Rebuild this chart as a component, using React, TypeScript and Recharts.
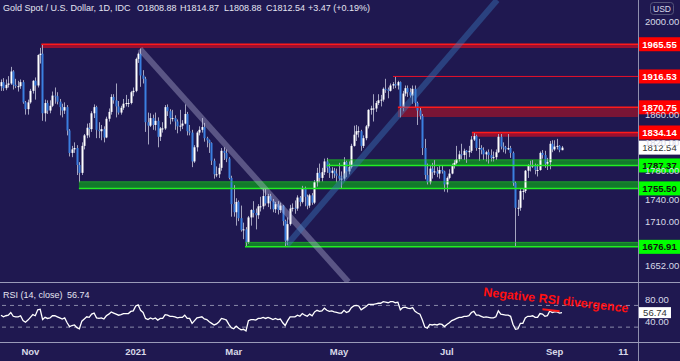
import React from 'react';
import { ComposedChart, Bar, Line, XAxis, YAxis, ReferenceLine, ReferenceArea } from 'recharts';

const FONT = '"Liberation Sans", Arial, sans-serif';
const BG = '#1f1850';

const opens = [1902,1908,1899,1904,1906,1924,1904,1902,1902,1908,
 1878,1868,1878,1895,1910,1903,1949,1951,1862,1877,
 1866,1873,1888,1887,1879,1871,1866,1871,1837,1805,
 1810,1812,1788,1777,1815,1830,1841,1839,1862,1871,
 1838,1836,1839,1827,1854,1864,1886,1881,1872,1863,
 1870,1876,1877,1877,1893,1895,1943,1951,1918,1913,
 1849,1844,1855,1845,1851,1828,1840,1840,1871,1865,
 1855,1855,1850,1843,1844,1847,1861,1836,1834,1793,
 1813,1834,1838,1842,1826,1823,1819,1794,1775,1775,
 1784,1808,1805,1797,1770,1734,1723,1737,1715,1699,
 1700,1683,1716,1726,1722,1719,1731,1731,1745,1735,
 1745,1738,1727,1734,1726,1732,1711,1685,1707,1728,
 1729,1728,1743,1737,1756,1744,1732,1746,1736,1764,
 1777,1770,1778,1793,1784,1777,1780,1776,1773,1769,
 1769,1792,1779,1785,1815,1831,1836,1836,1815,1826,
 1843,1867,1869,1869,1877,1881,1882,1898,1897,1895,
 1903,1905,1903,1908,1871,1891,1899,1893,1888,1898,
 1877,1866,1858,1812,1774,1764,1783,1778,1779,1776,
 1781,1779,1761,1770,1776,1787,1791,1796,1803,1802,
 1808,1806,1808,1824,1829,1812,1812,1809,1803,1806,
 1802,1798,1799,1806,1828,1814,1813,1810,1812,1805,
 1763,1729,1729,1752,1752,1780,1787,1786,1788,1781,
 1781,1805,1802,1790,1792,1818,1810,1814,1815,1808.88];

const highs = [1912,1914,1912,1917,1931,1926,1913,1910,1912,1911,
 1880,1882,1898,1911,1915,1950,1960,1965.5,1882,1881,
 1881,1894,1900,1893,1883,1876,1878,1874,1839,1815,
 1820,1816,1792,1820,1832,1847,1848,1865,1875,1873,
 1849,1845,1843,1857,1869,1890,1890,1906,1880,1873,
 1883,1889,1883,1895,1900,1945,1953,1959,1926,1916,
 1863,1862,1860,1863,1856,1842,1849,1874,1875,1868,
 1867,1859,1853,1867,1852,1875,1864,1845,1838,1816,
 1836,1843,1855,1848,1828,1824,1820,1797,1786,1790,
 1812,1813,1810,1799,1773,1760,1742,1739,1732,1709,
 1703,1718,1727,1738,1728,1734,1744,1755,1755,1748,
 1748,1741,1737,1738,1736,1733,1713,1716,1733,1735,
 1739,1746,1745,1759,1758,1747,1748,1749,1767,1784,
 1790,1784,1797,1798,1790,1785,1784,1783,1791,1779,
 1799,1794,1793,1818,1844,1845,1843,1838,1830,1845,
 1868,1873,1890,1880,1890,1889,1900,1913,1900,1906,
 1908,1916.5,1910,1909,1895,1903,1903,1899,1903,1903,
 1879,1870,1861,1825,1790,1788,1791,1795,1785,1787,
 1788,1780,1772,1782,1790,1795,1815,1808,1818,1811,
 1809,1815,1829,1834,1831,1825,1816,1813,1808,1810,
 1810,1807,1810,1832,1832,1820,1815,1832,1815,1807,
 1765,1740,1755,1755,1781,1789,1794,1795,1790,1789,
 1807,1809,1808,1798,1822,1823,1823,1825,1816,1814.87];

const lows = [1895,1895,1896,1900,1904,1897,1899,1894,1898,1876,
 1860,1860,1876,1891,1882,1900,1936,1851,1850,1861,
 1862,1871,1876,1875,1859,1856,1861,1830,1800,1799,
 1805,1774,1764,1774,1810,1826,1827,1835,1855,1826,
 1826,1823,1820,1826,1850,1860,1876,1856,1860,1860,
 1867,1872,1871,1875,1887,1893,1937,1901,1906,1835,
 1817,1842,1838,1837,1813,1822,1834,1838,1858,1846,
 1850,1838,1833,1836,1839,1846,1830,1830,1785,1791,
 1807,1830,1834,1821,1813,1805,1788,1769,1771,1770,
 1780,1795,1792,1768,1717,1717,1705,1711,1697,1687,
 1676.9,1681,1705,1716,1700,1714,1724,1727,1732,1730,
 1727,1723,1722,1720,1722,1705,1677,1679,1705,1724,
 1721,1725,1731,1735,1731,1727,1729,1733,1734,1758,
 1764,1765,1774,1777,1770,1769,1770,1764,1766,1756,
 1766,1771,1775,1783,1814,1822,1827,1808,1812,1823,
 1840,1860,1850,1864,1874,1872,1879,1892,1884,1894,
 1898,1899,1897,1856,1865,1887,1886,1885,1876,1870,
 1845,1853,1802,1768,1761,1761,1769,1774,1771,1769,
 1776,1751,1750,1768,1775,1783,1789,1793,1796,1795,
 1791,1799,1805,1822,1808,1794,1803,1795,1793,1790,
 1793,1793,1795,1805,1810,1806,1804,1809,1798,1759,
 1677,1718,1725,1740,1749,1770,1779,1784,1775,1772,
 1780,1797,1784,1781,1782,1806,1808,1810,1806,1808.88];

const closes = [1908,1899,1904,1906,1924,1904,1902,1902,1908,1878,
 1868,1878,1895,1910,1903,1949,1951,1862,1877,1866,
 1873,1888,1887,1879,1871,1866,1871,1837,1805,1810,
 1812,1788,1777,1815,1830,1841,1839,1862,1871,1838,
 1836,1839,1827,1854,1864,1886,1881,1872,1863,1870,
 1876,1877,1877,1893,1895,1943,1951,1918,1913,1849,
 1844,1855,1845,1851,1828,1840,1840,1871,1865,1855,
 1855,1850,1843,1844,1847,1861,1836,1834,1793,1813,
 1834,1838,1842,1826,1823,1819,1794,1775,1775,1784,
 1808,1805,1797,1770,1734,1723,1737,1715,1699,1700,
 1683,1716,1726,1722,1719,1731,1731,1745,1735,1745,
 1738,1727,1734,1726,1732,1711,1685,1707,1728,1729,
 1728,1743,1737,1756,1744,1732,1746,1736,1764,1777,
 1770,1778,1793,1784,1777,1780,1776,1773,1769,1769,
 1792,1779,1785,1815,1831,1836,1836,1815,1826,1843,
 1867,1869,1869,1877,1881,1882,1898,1897,1895,1903,
 1905,1903,1908,1871,1891,1899,1893,1888,1898,1877,
 1866,1858,1812,1774,1764,1783,1778,1779,1776,1781,
 1779,1761,1770,1776,1787,1791,1796,1803,1802,1808,
 1806,1808,1824,1829,1812,1812,1809,1803,1806,1802,
 1798,1799,1806,1828,1814,1813,1810,1812,1805,1763,
 1729,1729,1752,1752,1780,1787,1786,1788,1781,1781,
 1805,1802,1790,1792,1818,1810,1814,1815,1809,1812.54];

const rsiValues = [52,49,51,52,57,50,49,49,51,42,
 39,43,48,53,51,62,63,44,48,46,
 47,51,51,49,47,45,47,38,31,33,
 34,29,27,41,45,49,48,54,56,47,
 46,47,45,51,54,58,56,54,52,53,
 55,55,55,59,60,69,71,61,57,46,
 44,47,45,47,43,46,46,53,52,50,
 50,49,47,48,48,52,46,46,37,42,
 47,48,49,45,44,40,37,34,36,40,
 46,45,43,35,29,27,32,28,25,26,
 23,42,44,44,43,46,46,48,46,48,
 46,44,46,44,45,38,33,42,49,49,
 49,52,50,55,52,50,54,51,58,61,
 59,60,65,61,59,60,58,57,56,56,
 61,57,59,66,69,70,69,62,65,68,
 72,72,72,73,74,74,77,76,75,77,
 77,75,76,62,66,67,65,64,66,59,
 56,54,43,30,28,35,34,35,34,36,
 35,31,35,38,42,44,46,48,48,50,
 50,51,57,59,52,52,50,48,49,48,
 47,47,49,60,54,53,52,52,50,35,
 26,27,37,37,47,50,50,51,48,48,
 55,54,50,51,60,57,58,58,56,56.74];

const xTickIdx = [12, 55, 95, 138, 182, 226, 254];
const xTickLabels = ['Nov', '2021', 'Mar', 'May', 'Jul', 'Sep', '11'];
const priceTicks = [2000, 1860, 1820, 1780, 1740, 1710, 1652];
const rsiTicks = [80, 40];

// horizontal zones: start index, top, bottom
const redZoneStart = [16.5, 162, 192.2];
const redZoneTop = [1965.55, 1870.75, 1834.14];
const redZoneBottom = [1959.7, 1856.5, 1828];
const redLineStart = 160;
const redLineValue = 1916.53;
const greenZoneStart = [133, 31.8, 99.6];
const greenZoneTop = [1795.3, 1764.7, 1682.8];
const greenZoneBottom = [1787.37, 1755.5, 1676.91];

const tagValues = [1965.55, 1916.53, 1870.75, 1834.14, 1812.54, 1787.37, 1755.5, 1676.91];
const tagKinds = ['r', 'r', 'r', 'r', 'w', 'g', 'g', 'g'];

// trend lines: [x1, y1, x2, y2] in data units
const downTrend = [56.7, 1958.1, 141.8, 1631.3];
const upTrend = [116.7, 1679.3, 202.5, 2034.9];
const rsiDivergence = [221, 63, 228, 59.5];
const rsiLast = 56.74;

const X_DOMAIN: [number, number] = [-0.4, 260];
const PRICE_DOMAIN: [number, number] = [1631.3, 2034.9];
const RSI_DOMAIN: [number, number] = [2.6, 113.2];

const data = closes.map((c, i) => ({
  i,
  o: opens[i],
  h: highs[i],
  l: lows[i],
  c,
  range: [lows[i], highs[i]],
  rsi: rsiValues[i],
}));

const Candle = (p: any) => {
  const { x, y, width, height, payload } = p;
  if (x == null || y == null || !payload) return null;
  const top = Math.min(y, y + height);
  const hh = Math.abs(height);
  const cx = Math.round(x + width / 2);
  const { o, h, l, c } = payload;
  const lh = Math.log(h);
  const ll = Math.log(l);
  const py = (v: number) => (lh === ll ? top : top + ((lh - Math.log(v)) / (lh - ll)) * hh);
  const up = c >= o;
  const bt = py(Math.max(o, c));
  const bb = py(Math.min(o, c));
  return (
    <g>
      <line x1={cx + 0.5} x2={cx + 0.5} y1={top} y2={top + hh} stroke="#a4a4c0" strokeWidth={1} />
      <rect x={cx - 0.5} y={bt} width={2} height={Math.max(1, bb - bt)} fill={up ? '#ffffff' : '#3b7fe0'} />
    </g>
  );
};

const Tag = (p: any) => {
  const vb = p.viewBox || {};
  const y = vb.y ?? 0;
  const x0 = (vb.x ?? 0) + (vb.width ?? 638) + 1;
  const w = p.w ?? 41;
  const h = p.h ?? 14;
  return (
    <g>
      <rect x={x0} y={y - h / 2} width={w} height={h} fill={p.bg} />
      <text x={x0 + w / 2} y={y + 3.3} textAnchor="middle" fontSize={p.fs ?? 9.5} fontWeight={p.fw ?? 'bold'} fill={p.fg} fontFamily={FONT}>
        {p.text}
      </text>
    </g>
  );
};

const tagColors: Record<string, [string, string]> = {
  r: ['#ff0000', '#ffffff'],
  w: ['#ffffff', '#333333'],
  g: ['#00ff00', '#111111'],
};

export default function App() {
  const tickStyle = { fill: '#d8d8e8', fontSize: 9.5, fontFamily: FONT };
  return (
    <div style={{ position: 'absolute', left: 0, top: 0, width: 680, height: 361, background: BG, overflow: 'hidden' }}>
      <div style={{ position: 'absolute', left: 0, top: 0 }}>
        <ComposedChart width={680} height={282} data={data} margin={{ top: 0, right: 0, bottom: 0, left: 0 }}>
          <XAxis dataKey="i" type="number" domain={X_DOMAIN} allowDataOverflow hide />
          <YAxis
            orientation="right"
            width={42}
            scale="log"
            type="number"
            domain={PRICE_DOMAIN}
            allowDataOverflow
            ticks={priceTicks}
            tickFormatter={(v: number) => v.toFixed(2)}
            axisLine={false}
            tickLine={false}
            tick={tickStyle}
            tickMargin={1}
          />
          {redZoneStart.map((s, k) => (
            <ReferenceArea key={'rz' + k} x1={s} x2={X_DOMAIN[1]} y1={redZoneBottom[k]} y2={redZoneTop[k]} fill={k === 1 ? '#7a1535' : '#9a1030'} fillOpacity={1} stroke="none" ifOverflow="hidden" />
          ))}
          {redZoneStart.map((s, k) => (
            <ReferenceLine key={'rl' + k} segment={[{ x: s, y: redZoneTop[k] }, { x: X_DOMAIN[1], y: redZoneTop[k] }]} stroke="#ff1a1a" strokeWidth={1.5} ifOverflow="hidden" />
          ))}
          <ReferenceLine segment={[{ x: redLineStart, y: redLineValue }, { x: X_DOMAIN[1], y: redLineValue }]} stroke="#e8102a" strokeWidth={1} ifOverflow="hidden" />
          {greenZoneStart.map((s, k) => (
            <ReferenceArea key={'gz' + k} x1={s} x2={X_DOMAIN[1]} y1={greenZoneBottom[k]} y2={greenZoneTop[k]} fill="#137a2c" fillOpacity={1} stroke="none" ifOverflow="hidden" />
          ))}
          {greenZoneStart.map((s, k) => (
            <ReferenceLine key={'gl' + k} segment={[{ x: s, y: greenZoneBottom[k] }, { x: X_DOMAIN[1], y: greenZoneBottom[k] }]} stroke="#22ee22" strokeWidth={1.5} ifOverflow="hidden" />
          ))}
          {greenZoneStart.map((s, k) => (
            <ReferenceLine key={'gt' + k} segment={[{ x: s, y: greenZoneTop[k] }, { x: X_DOMAIN[1], y: greenZoneTop[k] }]} stroke="#22cc22" strokeOpacity={0.6} strokeWidth={1} ifOverflow="hidden" />
          ))}
          <Bar dataKey="range" barSize={2} shape={(p: any) => <Candle {...p} />} isAnimationActive={false} />
          <ReferenceLine segment={[{ x: downTrend[0], y: downTrend[1] }, { x: downTrend[2], y: downTrend[3] }]} stroke="#c8c8e8" strokeOpacity={0.35} strokeWidth={6} ifOverflow="hidden" />
          <ReferenceLine segment={[{ x: upTrend[0], y: upTrend[1] }, { x: upTrend[2], y: upTrend[3] }]} stroke="#3a7cc0" strokeOpacity={0.42} strokeWidth={6} ifOverflow="hidden" />
          {tagValues.map((v, k) => (
            <ReferenceLine key={'tag' + k} y={v} stroke="none" label={<Tag bg={tagColors[tagKinds[k]][0]} fg={tagColors[tagKinds[k]][1]} fw={tagKinds[k] === 'w' ? 'normal' : 'bold'} text={v.toFixed(2)} />} />
          ))}
        </ComposedChart>
      </div>
      <div style={{ position: 'absolute', left: 0, top: 282 }}>
        <ComposedChart width={680} height={79} data={data} margin={{ top: 0, right: 0, bottom: 0, left: 0 }}>
          <XAxis
            dataKey="i"
            type="number"
            domain={X_DOMAIN}
            allowDataOverflow
            ticks={xTickIdx}
            tickFormatter={(v: number) => xTickLabels[xTickIdx.indexOf(v)] ?? ''}
            height={19}
            axisLine={false}
            tickLine={false}
            tickSize={0}
            tickMargin={6}
            tick={{ fill: '#d8d8e8', fontSize: 9.5, fontWeight: 'bold', fontFamily: FONT }}
          />
          <YAxis
            orientation="right"
            width={42}
            type="number"
            domain={RSI_DOMAIN}
            allowDataOverflow
            ticks={rsiTicks}
            tickFormatter={(v: number) => v.toFixed(2)}
            axisLine={false}
            tickLine={false}
            tick={tickStyle}
            tickMargin={1}
          />
          <ReferenceLine y={70} stroke="#8a8aa8" strokeDasharray="4 4" strokeWidth={1} />
          <ReferenceLine y={30} stroke="#8a8aa8" strokeDasharray="4 4" strokeWidth={1} />
          <Line dataKey="rsi" type="linear" stroke="#ffffff" strokeWidth={1.3} dot={false} isAnimationActive={false} />
          <ReferenceLine segment={[{ x: rsiDivergence[0], y: rsiDivergence[1] }, { x: rsiDivergence[2], y: rsiDivergence[3] }]} stroke="#ff1a1a" strokeWidth={2} />
          <ReferenceLine y={rsiLast} stroke="none" label={<Tag bg="#ffffff" fg="#333333" fw="normal" w={32} h={11} text={rsiLast.toFixed(2)} />} />
        </ComposedChart>
      </div>
      <svg width={680} height={361} style={{ position: 'absolute', left: 0, top: 0, pointerEvents: 'none' }}>
        <line x1={638.5} x2={638.5} y1={0} y2={361} stroke="#8f8fae" strokeWidth={1} />
        <line x1={0} x2={680} y1={282.5} y2={282.5} stroke="#9a9ab8" strokeWidth={1} />
        <line x1={0} x2={680} y1={342.5} y2={342.5} stroke="#9a9ab8" strokeWidth={1} />
        <g fontFamily={FONT} fontSize={9} fill="#e4e4f0">
          <text x={3} y={11}>Gold Spot / U.S. Dollar, 1D, IDC</text>
          <text x={137} y={11}>O1808.88</text>
          <text x={180} y={11}>H1814.87</text>
          <text x={224} y={11}>L1808.88</text>
          <text x={266} y={11}>C1812.54</text>
          <text x={308} y={11}>+3.47 (+0.19%)</text>
          <text x={3} y={298}>RSI (14, close)</text>
          <text x={67} y={298}>56.74</text>
        </g>
        <rect x={650.5} y={2.5} width={23} height={12} rx={3} fill="none" stroke="#55557a" />
        <text x={662} y={11.5} textAnchor="middle" fontFamily={FONT} fontSize={8.5} fill="#d8d8e8">USD</text>
        <text x={483} y={296} transform="rotate(6.5 483 296)" fontFamily={FONT} fontSize={12.5} fontWeight="bold" fill="#ff1010">
          Negative RSI divergence
        </text>
      </svg>
    </div>
  );
}
